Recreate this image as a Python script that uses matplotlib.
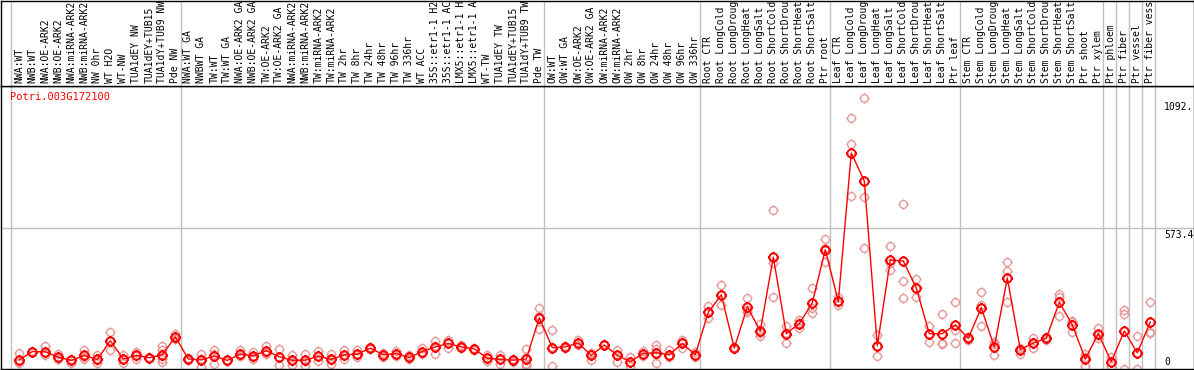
import numpy as np
import matplotlib
matplotlib.use("Agg")
import matplotlib.pyplot as plt
from matplotlib.path import Path

# sample labels, one list per vertical separator block
groups = [
    ["NWA:WT", "NWB:WT", "NWA:OE-ARK2", "NWB:OE-ARK2", "NWA:miRNA-ARK2",
     "NWB:miRNA-ARK2", "NW 0hr", "WT H2O", "WT-NW", "TUA1dEY NW",
     "TUA1dEY+TUB15", "TUA1dY+TUB9 NW", "Pde NW"],
    ["NWA:WT GA", "NWBWT GA", "TW:WT", "TW:WT GA", "NWA:OE-ARK2 GA",
     "NWB:OE-ARK2 GA", "TW:OE-ARK2", "TW:OE-ARK2 GA", "NWA:miRNA-ARK2",
     "NWB:miRNA-ARK2", "TW:miRNA-ARK2", "TW:miRNA-ARK2", "TW 2hr", "TW 8hr",
     "TW 24hr", "TW 48hr", "TW 96hr", "TW 336hr", "WT ACC", "35S::etr1-1 H2",
     "35S::etr1-1 AC", "LMX5::etr1-1 H", "LMX5::etr1-1 A", "WT-TW",
     "TUA1dEY TW", "TUA1dEY+TUB15", "TUA1dY+TUB9 TW", "Pde TW"],
    ["OW:WT", "OW:WT GA", "OW:OE-ARK2", "OW:OE-ARK2 GA", "OW:miRNA-ARK2",
     "OW:miRNA-ARK2", "OW 2hr", "OW 8hr", "OW 24hr", "OW 48hr", "OW 96hr",
     "OW 336hr"],
    ["Root CTR", "Root LongCold", "Root LongDroug", "Root LongHeat",
     "Root LongSalt", "Root ShortCold", "Root ShortDrou", "Root ShortHeat",
     "Root ShortSalt", "Ptr root"],
    ["Leaf CTR", "Leaf LongCold", "Leaf LongDroug", "Leaf LongHeat",
     "Leaf LongSalt", "Leaf ShortCold", "Leaf ShortDrou", "Leaf ShortHeat",
     "Leaf ShortSalt", "Ptr leaf"],
    ["Stem CTR", "Stem LongCold", "Stem LongDroug", "Stem LongHeat",
     "Stem LongSalt", "Stem ShortCold", "Stem ShortDrou", "Stem ShortHeat",
     "Stem ShortSalt", "Ptr shoot", "Ptr xylem"],
    ["Ptr phloem"],
    ["Ptr fiber"],
    ["Ptr vessel"],
    ["Ptr fiber vess"],
]

means = [
    35, 69, 68, 46, 33, 53, 37, 113, 39, 53, 44, 56, 129,
    39, 35, 51, 33, 58, 52, 72, 48, 33, 34, 50, 37, 56, 58, 83, 56, 61, 45,
    69, 88, 102, 88, 80, 42, 37, 34, 39, 207,
    85, 88, 104, 53, 96, 53, 28, 61, 64, 56, 102, 56,
    229, 300, 83, 251, 153, 454, 142, 183, 267, 484,
    273, 878, 764, 93, 442, 438, 328, 142, 142, 178,
    123, 248, 88, 369, 77, 104, 123, 270, 178, 39, 142,
    28, 153, 64, 190,
]

replicates = [
    [64, 30, 23], [72, 69, 66], [91, 62, 53], [61, 40, 38], [40, 34, 23],
    [77, 45, 37], [53, 36, 23], [150, 113, 77], [53, 40, 23], [69, 50, 40],
    [46, 44, 42], [91, 77, 50, 37, 25], [140, 129, 121],
    [42, 39, 36], [61, 39, 5], [74, 60, 20], [35, 32, 30], [74, 50, 50],
    [69, 45, 40], [91, 65, 60], [80, 48, 15], [53, 32, 15], [61, 32, 9],
    [72, 50, 30], [58, 36, 17], [74, 56, 38], [74, 55, 45], [88, 83, 78],
    [64, 56, 48], [72, 61, 50], [53, 45, 38], [83, 65, 60], [113, 93, 58],
    [118, 105, 83], [95, 88, 82], [85, 80, 75], [53, 42, 32], [53, 40, 17],
    [40, 34, 28], [80, 45, 20, 12], [248, 215, 159],
    [156, 87, 12], [92, 88, 85], [115, 105, 94], [65, 60, 34], [98, 96, 94],
    [74, 57, 28], [45, 28, 12], [70, 61, 52], [96, 80, 55, 23], [74, 50, 45],
    [115, 107, 83], [66, 55, 48],
    [253, 230, 207], [340, 300, 259], [88, 83, 78], [289, 240, 232],
    [183, 145, 131], [647, 430, 292], [175, 145, 105], [199, 186, 164],
    [329, 245, 226], [527, 490, 435],
    [290, 272, 258], [1021, 915, 703], [1102, 698, 492], [137, 93, 50],
    [500, 430, 400], [670, 357, 288], [365, 328, 292], [172, 142, 110],
    [222, 105, 100], [272, 158, 105],
    [130, 123, 115], [313, 260, 172], [110, 100, 53], [435, 397, 272],
    [85, 77, 60], [125, 104, 85], [130, 123, 115], [305, 290, 213],
    [195, 190, 150], [61, 45, 9], [167, 135, 125],
    [45, 28, 11], [240, 224, 0], [131, 64, 0], [272, 150, 145],
]

gene = "Potri.003G172100"
y_ticks = [1092.2, 573.4, 0]
y_tick_text = ["1092.", "573.4", "0"]

W, H = 1194, 370
MONO = "DejaVu Sans Mono"
GRID = "#c0c0c0"


def px_rect(left, top, right, bottom):
    return [left / W, 1 - bottom / H, (right - left) / W, (bottom - top) / H]


# circle with four small nubs, like the pixel markers in the original
nub = 1.35
ring = Path.make_compound_path(
    Path.circle((0, 0), 1.0),
    Path([(0, 1), (0, nub)], [Path.MOVETO, Path.LINETO]),
    Path([(0, -1), (0, -nub)], [Path.MOVETO, Path.LINETO]),
    Path([(1, 0), (nub, 0)], [Path.MOVETO, Path.LINETO]),
    Path([(-1, 0), (-nub, 0)], [Path.MOVETO, Path.LINETO]),
)

labels = [lab for g in groups for lab in g]
x = np.arange(len(labels))
xlim = ((0.5 - 19.3) / 13, (1193.5 - 19.3) / 13)

fig = plt.figure(figsize=(W / 100, H / 100), dpi=100)
ax = fig.add_axes(px_rect(0.5, 86, 1193.5, 368.5))
axh = fig.add_axes(px_rect(0.5, 0.5, 1193.5, 86))

for a in (ax, axh):
    a.set_xlim(*xlim)
    a.set_xticks([])
    a.set_yticks([])
    for s in a.spines.values():
        s.set_color("black")
        s.set_linewidth(1)

ax.set_ylim(0, 1151)
axh.set_ylim(0, 1)

# block separators
seps = [-0.65] + list(np.cumsum([len(g) for g in groups]) - 1 + 0.4)
for sx in seps:
    ax.axvline(sx, color=GRID, lw=1, zorder=1)
    axh.axvline(sx, color=GRID, lw=1, zorder=1)
ax.axhline(573.4, color=GRID, lw=1, zorder=1)

for i, vals in enumerate(replicates):
    ax.plot([i] * len(vals), vals, ls="none", marker=ring, ms=7.5,
            mfc="none", mec="#e89a9a", mew=1, zorder=2)

ax.plot(x, means, color="red", lw=1, marker=ring, ms=8, mfc="none",
        mec="red", mew=1.4, zorder=3)

for i, lab in enumerate(labels):
    axh.text(i, 3 / 85.5, lab, rotation=90, ha="center", va="bottom",
             family=MONO, fontsize=7, clip_on=True)

fig.text(10 / W, 1 - 97 / H, gene, color="red", family=MONO, fontsize=7.5,
         va="center")

# value labels on the right, hanging just under their level
for v, t in zip(y_ticks, y_tick_text):
    if v == 0:
        ax.annotate(t, (88.05, v), xytext=(0, 3.5), textcoords="offset pixels",
                    family=MONO, fontsize=7, va="baseline", ha="left")
    else:
        ax.annotate(t, (88.05, v), xytext=(0, -2), textcoords="offset pixels",
                    family=MONO, fontsize=7, va="top", ha="left",
                    annotation_clip=False, clip_on=True)

fig.savefig("out.png", dpi=100)
